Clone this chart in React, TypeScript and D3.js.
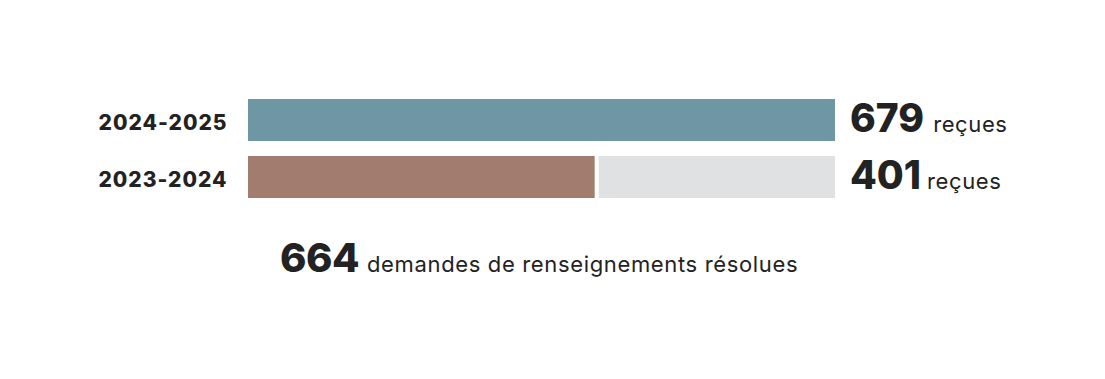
import React from "react";
import * as d3 from "d3";

const years = ["2024-2025", "2023-2024"];
const received = [679, 401];
const resolved = 664;
const receivedLabel = "reçues";
const resolvedLabel = "demandes de renseignements résolues";
const barColors = ["#6f96a3", "#a27d6f"];

const W = 1105;
const H = 379;
const FONT = "Inter, 'Open Sans', sans-serif";

export default function App() {
  const total = d3.max(received) as number;
  const x = d3.scaleLinear().domain([0, total]).range([248, 835]);
  const y = d3.scaleBand().domain(years).range([99, 198]).paddingInner(15 / 57);
  const bh = y.bandwidth();
  return (
    <div style={{ position: "absolute", left: 0, top: 0 }}>
      <svg width={W} height={H} style={{ display: "block", background: "#fff" }}>
        {years.map((yr, i) => {
          const y0 = y(yr) as number;
          const v = received[i];
          return (
            <g key={yr}>
              {v < total && (
                <rect x={x(v) + 4} y={y0} width={x(total) - x(v) - 4} height={bh} fill="#e0e1e2" />
              )}
              <rect x={x(0)} y={y0} width={x(v) - x(0)} height={bh} fill={barColors[i]} />
              <text
                x={227.5}
                y={y0 + bh / 2 + 10}
                textAnchor="end"
                fontFamily={FONT}
                fontWeight={800}
                fontSize={21}
                letterSpacing={1}
                fill="#222"
              >
                {yr}
              </text>
              <text x={850} y={y0 + bh / 2 + 12} fontFamily={FONT} fill="#222">
                <tspan fontWeight={800} fontSize={39} letterSpacing={0}>{v}</tspan>
                <tspan fontSize={22} letterSpacing={0.6} dx={i === 0 ? 9 : 6}>{receivedLabel}</tspan>
              </text>
            </g>
          );
        })}
        <text x={280} y={272} fontFamily={FONT} fill="#222">
          <tspan fontWeight={800} fontSize={40} letterSpacing={-0.5}>{resolved}</tspan>
          <tspan fontSize={22} letterSpacing={0.65} dx={8}>{resolvedLabel}</tspan>
        </text>
      </svg>
    </div>
  );
}
